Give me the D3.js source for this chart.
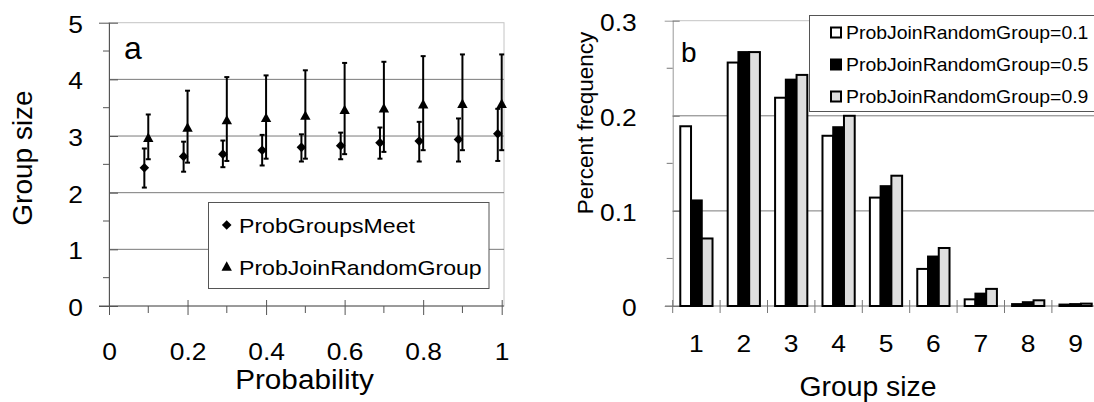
<!DOCTYPE html>
<html>
<head>
<meta charset="utf-8">
<script src="https://cdn.jsdelivr.net/npm/d3@7"></script>
<style>
  body { margin: 0; background: #fff; }
  svg { display: block; font-family: "Liberation Sans", Arial, Helvetica, sans-serif; }
</style>
</head>
<body>
<script>
// Panel a data
var probX = [0.1, 0.2, 0.3, 0.4, 0.5, 0.6, 0.7, 0.8, 0.9, 1.0];
var meetX = [0.09, 0.19, 0.29, 0.39, 0.49, 0.59, 0.69, 0.79, 0.89, 0.99];
var meetMean = [2.44, 2.64, 2.68, 2.75, 2.80, 2.83, 2.88, 2.91, 2.94, 3.04];
var meetLow = [2.09, 2.37, 2.45, 2.48, 2.55, 2.59, 2.60, 2.55, 2.55, 2.56];
var meetHigh = [2.78, 2.90, 2.92, 3.02, 3.03, 3.06, 3.15, 3.25, 3.31, 3.48];
var joinMean = [2.97, 3.15, 3.28, 3.32, 3.36, 3.46, 3.49, 3.56, 3.57, 3.57];
var joinLow = [2.59, 2.53, 2.56, 2.60, 2.60, 2.68, 2.72, 2.75, 2.75, 2.75];
var joinHigh = [3.38, 3.80, 4.04, 4.07, 4.16, 4.29, 4.31, 4.41, 4.44, 4.44];
var aXTicks = [0, 0.2, 0.4, 0.6, 0.8, 1];
var aYTicks = [0, 1, 2, 3, 4, 5];
var aSeries = ["ProbGroupsMeet", "ProbJoinRandomGroup"];

// Panel b data
var groupSizes = ["1", "2", "3", "4", "5", "6", "7", "8", "9"];
var freq01 = [0.189, 0.256, 0.219, 0.179, 0.114, 0.039, 0.007, 0.002, 0.0015];
var freq05 = [0.111, 0.267, 0.238, 0.188, 0.126, 0.052, 0.013, 0.004, 0.002];
var freq09 = [0.071, 0.267, 0.243, 0.200, 0.137, 0.061, 0.018, 0.006, 0.0025];
var bSeries = ["ProbJoinRandomGroup=0.1", "ProbJoinRandomGroup=0.5", "ProbJoinRandomGroup=0.9"];
var bYTicks = [0, 0.1, 0.2, 0.3];

window.onload = start;

function start() {
    var svg = d3.select("body").append("svg")
        .attr("width", 1094)
        .attr("height", 402);

    drawPanelA(svg);
    drawPanelB(svg);
}

// the original type is a bit wider than Liberation Sans, so widen horizontally
function stretch(sel, k) {
    sel.each(function() {
        var w = this.getComputedTextLength();
        d3.select(this).attr("textLength", w * k).attr("lengthAdjust", "spacingAndGlyphs");
    });
}

function drawPanelA(svg) {
    var x = d3.scaleLinear().domain([0, 1]).range([109, 501.7]);
    var y = d3.scaleLinear().domain([0, 5]).range([306, 22.7]);
    var fmt = d3.format("");
    var g = svg.append("g");

    // light border top / right
    g.append("rect")
        .attr("x", x(0)).attr("y", y(5))
        .attr("width", 504 - x(0)).attr("height", y(0) - y(5))
        .attr("fill", "none").attr("stroke", "#c4c4c4");

    // gridlines
    g.selectAll(".grid").data([1, 2, 3, 4]).enter().append("line")
        .attr("x1", x(0)).attr("x2", 504)
        .attr("y1", function(d) { return y(d); })
        .attr("y2", function(d) { return y(d); })
        .attr("stroke", "#7a7a7a");

    // y axis
    var yAxis = g.append("g").attr("transform", "translate(" + x(0) + ",0)")
        .call(d3.axisLeft(y).tickValues(aYTicks).tickSize(10).tickFormat(fmt));
    yAxis.select(".domain").attr("stroke", "#555");
    yAxis.selectAll(".tick line").attr("x2", 9).attr("stroke", "#555");
    yAxis.selectAll("text").attr("font-size", 24).attr("font-family", null).attr("fill", "#000")
        .attr("x", -26).attr("dy", "0.4em")
        .call(stretch, 1.1);
    g.selectAll(".yminor").data([0.5, 1.5, 2.5, 3.5, 4.5]).enter().append("line")
        .attr("x1", x(0) - 6).attr("x2", x(0))
        .attr("y1", function(d) { return y(d); })
        .attr("y2", function(d) { return y(d); })
        .attr("stroke", "#555");

    // x axis
    var xAxis = g.append("g").attr("transform", "translate(0," + y(0) + ")")
        .call(d3.axisBottom(x).tickValues(aXTicks).tickSizeInner(9).tickSizeOuter(0).tickFormat(fmt));
    xAxis.select(".domain").attr("stroke", "#555").attr("d", "M99,0H504");
    xAxis.selectAll(".tick line").attr("y1", -6).attr("stroke", "#555");
    xAxis.selectAll("text").attr("font-size", 24).attr("font-family", null).attr("fill", "#000")
        .attr("y", 54).attr("dy", 0)
        .call(stretch, 1.1);
    g.selectAll(".xminor").data([0.1, 0.3, 0.5, 0.7, 0.9]).enter().append("line")
        .attr("x1", function(d) { return x(d); })
        .attr("x2", function(d) { return x(d); })
        .attr("y1", y(0)).attr("y2", y(0) + 7)
        .attr("stroke", "#555");

    // error bars
    function errorBars(xs, lows, highs) {
        var eb = g.append("g").attr("stroke", "#000").attr("stroke-width", 2);
        xs.forEach(function(v, i) {
            eb.append("line").attr("x1", x(v)).attr("x2", x(v))
                .attr("y1", y(lows[i])).attr("y2", y(highs[i]));
            eb.append("line").attr("x1", x(v) - 2.5).attr("x2", x(v) + 2.5)
                .attr("y1", y(lows[i])).attr("y2", y(lows[i]));
            eb.append("line").attr("x1", x(v) - 2.5).attr("x2", x(v) + 2.5)
                .attr("y1", y(highs[i])).attr("y2", y(highs[i]));
        });
    }
    errorBars(meetX, meetLow, meetHigh);
    errorBars(probX, joinLow, joinHigh);

    // markers
    g.selectAll(".diamond").data(meetMean).enter().append("path")
        .attr("d", function(d, i) { return diamondPath(x(meetX[i]), y(d), 4.8); })
        .attr("fill", "#000");
    g.selectAll(".triangle").data(joinMean).enter().append("path")
        .attr("d", function(d, i) { return trianglePath(x(probX[i]), y(d), 5.2); })
        .attr("fill", "#000");

    // panel letter
    g.append("text").attr("x", 124).attr("y", 59).attr("font-size", 32).text("a");

    // legend
    var lg = g.append("g");
    lg.append("rect").attr("x", 208.5).attr("y", 202.5).attr("width", 280.5).attr("height", 86)
        .attr("fill", "#fff").attr("stroke", "#555");
    lg.append("path").attr("d", diamondPath(226.7, 225, 4.8)).attr("fill", "#000");
    lg.append("path").attr("d", trianglePath(226.7, 266.5, 5.2)).attr("fill", "#000");
    lg.selectAll(".lt").data(aSeries).enter().append("text")
        .attr("x", 239).attr("y", function(d, i) { return i === 0 ? 232.5 : 275; })
        .attr("font-size", 21).text(function(d) { return d; })
        .call(stretch, 1.1);

    // axis titles
    g.append("text").attr("x", 304.5).attr("y", 389).attr("text-anchor", "middle")
        .attr("font-size", 27).text("Probability")
        .call(stretch, 1.1);
    g.append("text").attr("transform", "translate(32,158) rotate(-90)").attr("text-anchor", "middle")
        .attr("font-size", 28).text("Group size");
}

function drawPanelB(svg) {
    var x = d3.scaleBand().domain(groupSizes).range([672.7, 1099.3]).padding(0);
    var bw = x.bandwidth();
    var sub = d3.scaleBand().domain([0, 1, 2]).range([0.16 * bw, 0.84 * bw]).padding(0);
    var y = d3.scaleLinear().domain([0, 0.3]).range([306, 20.7]);
    var fmt = d3.format("");
    var g = svg.append("g");

    // gridlines and top border
    g.selectAll(".grid").data([0.1, 0.2, 0.3]).enter().append("line")
        .attr("x1", x.range()[0]).attr("x2", 1094)
        .attr("y1", function(d) { return y(d); })
        .attr("y2", function(d) { return y(d); })
        .attr("stroke", function(d) { return d === 0.3 ? "#c4c4c4" : "#7a7a7a"; });

    // y axis
    var yAxis = g.append("g").attr("transform", "translate(" + x.range()[0] + ",0)")
        .call(d3.axisLeft(y).tickValues(bYTicks).tickSize(8).tickFormat(fmt));
    yAxis.select(".domain").attr("stroke", "#999");
    yAxis.selectAll(".tick line").attr("x2", 7).attr("stroke", "#777");
    yAxis.selectAll("text").attr("font-size", 24).attr("font-family", null).attr("fill", "#000")
        .attr("x", -36).attr("dy", "0.4em")
        .call(stretch, 1.1);
    g.selectAll(".yminor").data([0.05, 0.15, 0.25]).enter().append("line")
        .attr("x1", x.range()[0] - 6).attr("x2", x.range()[0])
        .attr("y1", function(d) { return y(d); })
        .attr("y2", function(d) { return y(d); })
        .attr("stroke", "#777");

    // x axis
    var xAxis = g.append("g").attr("transform", "translate(0," + y(0) + ")")
        .call(d3.axisBottom(x).tickSize(0));
    xAxis.select(".domain").attr("stroke", "#777").attr("d", "M665,0H1094");
    xAxis.selectAll("text").attr("font-size", 24).attr("font-family", null).attr("fill", "#000")
        .attr("y", 46).attr("dy", 0)
        .call(stretch, 1.1);
    g.selectAll(".xtick").data(groupSizes).enter().append("line")
        .attr("x1", function(d) { return x(d); })
        .attr("x2", function(d) { return x(d); })
        .attr("y1", y(0) - 6).attr("y2", y(0) + 7)
        .attr("stroke", "#777");

    // bars
    var series = [freq01, freq05, freq09];
    var fills = ["#ffffff", "#000000", "#dedede"];
    series.forEach(function(vals, s) {
        g.selectAll(".bar" + s).data(vals).enter().append("rect")
            .attr("x", function(d, i) { return x(groupSizes[i]) + sub(s); })
            .attr("y", function(d) { return y(d); })
            .attr("width", sub.bandwidth())
            .attr("height", function(d) { return y(0) - y(d); })
            .attr("fill", fills[s])
            .attr("stroke", "#000").attr("stroke-width", 2);
    });

    // panel letter
    g.append("text").attr("x", 681).attr("y", 62).attr("font-size", 28).text("b");

    // legend
    var lg = g.append("g");
    lg.append("rect").attr("x", 809.5).attr("y", 15.5).attr("width", 300).attr("height", 96)
        .attr("fill", "#fff").attr("stroke", "#555");
    bSeries.forEach(function(name, i) {
        var cy = 32.5 + i * 32;
        lg.append("rect").attr("x", 831).attr("y", cy - 5).attr("width", 10).attr("height", 10)
            .attr("fill", fills[i]).attr("stroke", "#000").attr("stroke-width", 2);
        lg.append("text").attr("x", 846).attr("y", cy + 6.5)
            .attr("font-size", 18.5).text(name)
            .call(stretch, 1.05);
    });

    // axis titles
    g.append("text").attr("x", 868).attr("y", 396).attr("text-anchor", "middle")
        .attr("font-size", 27).text("Group size")
        .call(stretch, 1.05);
    g.append("text").attr("transform", "translate(593,123) rotate(-90)").attr("text-anchor", "middle")
        .attr("font-size", 22.5).text("Percent frequency");
}

function diamondPath(cx, cy, r) {
    return "M" + cx + "," + (cy - r) + "L" + (cx + r) + "," + cy + "L" + cx + "," + (cy + r) +
        "L" + (cx - r) + "," + cy + "Z";
}

function trianglePath(cx, cy, r) {
    return "M" + cx + "," + (cy - r) + "L" + (cx + r) + "," + (cy + r * 0.8) + "L" + (cx - r) + "," + (cy + r * 0.8) + "Z";
}
</script>
</body>
</html>
